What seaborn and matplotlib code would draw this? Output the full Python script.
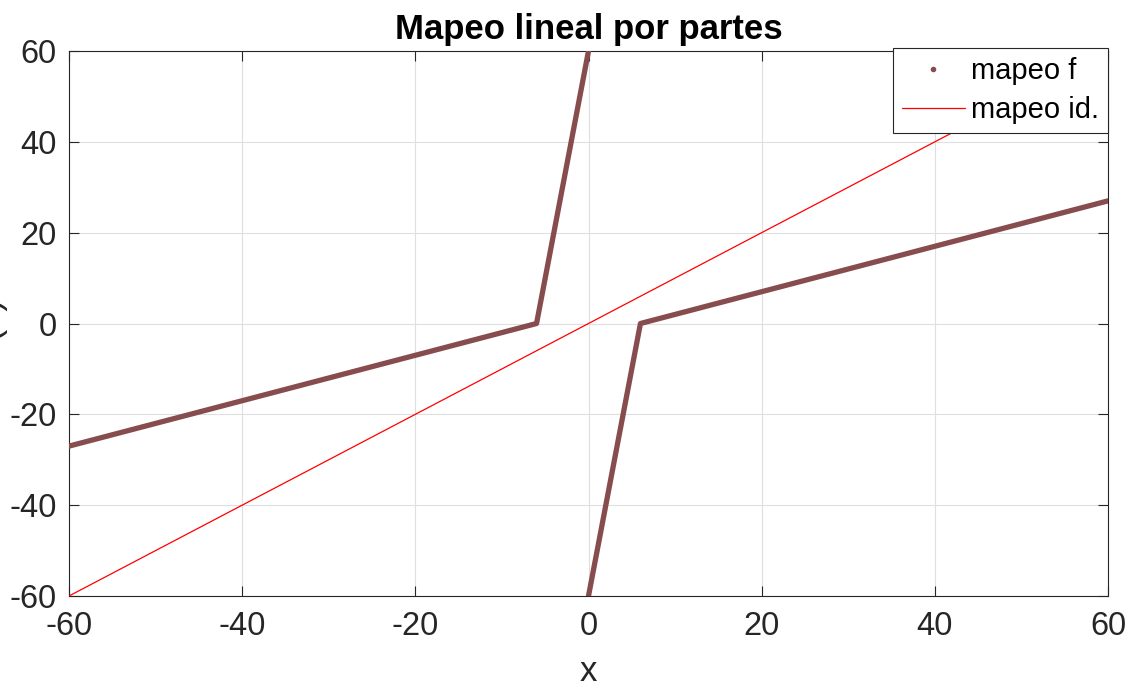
import numpy as np
import pandas as pd
import matplotlib
matplotlib.use("Agg")
import matplotlib.pyplot as plt
import seaborn as sns
from matplotlib.lines import Line2D

# ---- data ----
f_left_x = [-60, -6, 0]
f_left_y = [-27, 0, 60]
f_right_x = [0, 6, 60]
f_right_y = [-60, 0, 27]
id_x = [-60, 60]
id_y = [-60, 60]
x_ticks = [-60, -40, -20, 0, 20, 40, 60]
y_ticks = [-60, -40, -20, 0, 20, 40, 60]
title_text = "Mapeo lineal por partes"
series_labels = ["mapeo f", "mapeo id."]
x_label = "x"
y_label = "f(x)"

# ---- style ----
sns.set_theme(style="whitegrid")
plt.rcParams['font.family'] = ['Liberation Sans', 'DejaVu Sans']

f_color = "#874C4E"
id_color = "#FF0000"
axis_color = "#262626"

W, H = 1131, 690
fig = plt.figure(figsize=(W / 100, H / 100), dpi=100)
fig.patch.set_facecolor("white")
L, R, T, B = 69, 1108, 51, 596
ax = fig.add_axes([L / W, 1 - B / H, (R - L) / W, (B - T) / H])
ax.set_facecolor("white")

df_f = pd.DataFrame({
    "x": f_left_x + f_right_x,
    "y": f_left_y + f_right_y,
    "piece": [0] * len(f_left_x) + [1] * len(f_right_x),
})
sns.lineplot(data=df_f, x="x", y="y", units="piece", estimator=None, sort=False,
             color=f_color, linewidth=3.8, ax=ax, legend=False, zorder=3)
df_id = pd.DataFrame({"x": id_x, "y": id_y})
sns.lineplot(data=df_id, x="x", y="y", color=id_color, linewidth=0.9, ax=ax,
             legend=False, zorder=3)

ax.set_xlim(-60, 60)
ax.set_ylim(-60, 60)
ax.set_xticks(x_ticks)
ax.set_yticks(y_ticks)
ax.set_xticklabels([str(v) for v in x_ticks])
ax.set_yticklabels([str(v) for v in y_ticks])

ax.grid(True, color="#DFDFDF", linewidth=0.8)
for s in ax.spines.values():
    s.set_visible(True)
    s.set_color(axis_color)
    s.set_linewidth(0.8)
ax.tick_params(axis="both", direction="in", length=7, width=0.8, color=axis_color,
               labelcolor=axis_color, labelsize=23.5, top=True, right=True,
               bottom=True, left=True, pad=9)
ax.tick_params(axis="x", pad=11)

ax.set_title(title_text, fontsize=25, fontweight="bold", color="black", pad=9)
ax.set_xlabel(x_label, fontsize=25, color=axis_color, labelpad=9)
ax.set_ylabel(y_label, fontsize=26, color=axis_color)
ax.yaxis.set_label_coords((8 - L) / (R - L), 0.5)

handles = [
    Line2D([], [], color=f_color, marker=".", markersize=6, linestyle="none"),
    Line2D([], [], color=id_color, linewidth=0.9),
]
leg = ax.legend(handles, series_labels, loc="upper right",
                bbox_to_anchor=(R / W, 1 - 48 / H), bbox_transform=fig.transFigure,
                borderaxespad=0, fontsize=21, frameon=True, fancybox=False,
                framealpha=1, edgecolor=axis_color, handlelength=2.15,
                handletextpad=0.2, borderpad=0.32, labelspacing=0.36)
leg.get_frame().set_linewidth(0.8)
for t in leg.get_texts():
    t.set_color("black")

fig.savefig("out.png", dpi=100, facecolor="white")
